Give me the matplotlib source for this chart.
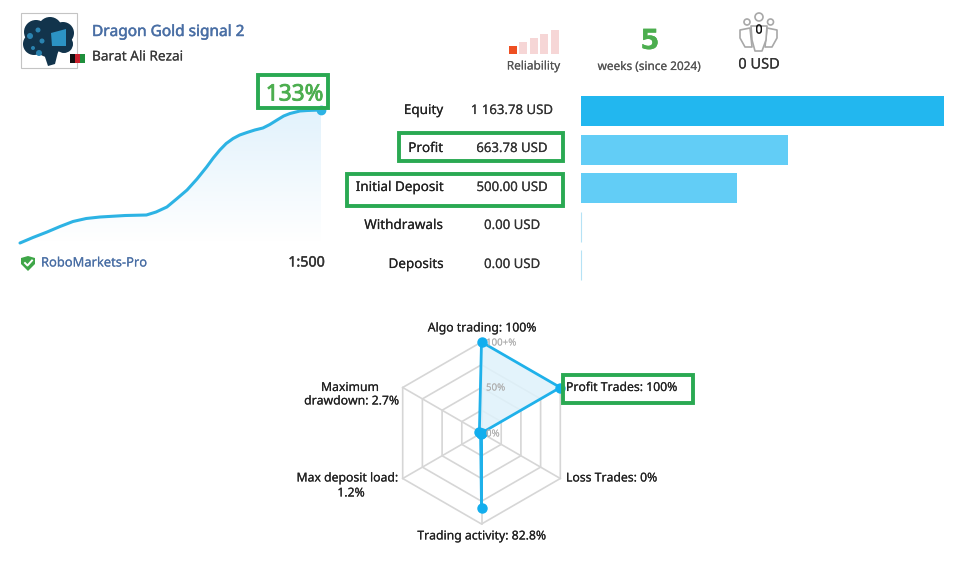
"""Signal card: growth line, balance bars and radar."""

import matplotlib
matplotlib.use("Agg")
import matplotlib.patheffects as pe
import matplotlib.pyplot as plt
import numpy as np
from matplotlib.patches import Circle, Polygon, Rectangle

plt.rcParams["font.family"] = ["Noto Sans", "DejaVu Sans"]

W, H = 960, 564

# growth curve, percent against week position
growth_x = [0, 4.3, 9, 13.3, 17.6, 22, 26.6, 35, 42, 45.2, 48.8, 52, 55.5, 58.8, 62, 64.2, 66.4, 68.5, 70.8, 73,
            75.4, 78, 80.7, 83, 85.4, 87.6, 89.7, 93, 95.4, 100]
growth_y = [0, 5.5, 11, 16.5, 21.5, 24.5, 26, 27.5, 28, 31, 36, 44, 53, 64, 76, 85, 93, 99.5, 104.5, 108,
            110.5, 113, 115, 118.5, 123, 127, 129.5, 132, 132.5, 133]

bar_labels = ["Equity", "Profit", "Initial Deposit", "Withdrawals", "Deposits"]
bar_texts = ["1 163.78 USD", "663.78 USD", "500.00 USD", "0.00 USD", "0.00 USD"]
bar_values = [1163.78, 663.78, 500.00, 0.00, 0.00]
bar_colors = ["#22b7ef", "#62cdf6", "#62cdf6", "#b5e2f5", "#b5e2f5"]

radar_labels = ["Algo trading", "Profit Trades", "Loss Trades", "Trading activity", "Max deposit load",
                "Maximum drawdown"]
radar_values = [100, 100, 0, 82.8, 1.2, 2.7]
radar_rings = [25, 50, 75, 100]
reliability = [8, 12, 16, 20, 24]

GREEN = "#2aa952"
BLUE = "#1fb1ea"
LINK = "#4a6fa5"
TEXT = "#2b2b2b"


def px_axes(fig, left, top, right, bottom, **kwargs):
    return fig.add_axes([left / W, 1 - bottom / H, (right - left) / W, (bottom - top) / H], **kwargs)


fig = plt.figure(figsize=(W / 100, H / 100), dpi=100, facecolor="white")

# overlay in pixel coordinates for the text and icons
ov = fig.add_axes([0, 0, 1, 1], zorder=5)
ov.set_xlim(0, W)
ov.set_ylim(H, 0)
ov.axis("off")
ov.patch.set_alpha(0)


def label(x, y, s, size=9.3, color=TEXT, ha="left", heavy=0.1, **kwargs):
    t = ov.text(x, y + 1.5, s, fontsize=size, color=color, ha=ha, va="center", **kwargs)
    t.set_path_effects([pe.withStroke(linewidth=heavy, foreground=color)])


def box(x0, y0, x1, y1):
    ov.add_patch(Rectangle((x0, y0), x1 - x0, y1 - y0, fill=False, ec=GREEN, lw=2.8))


# avatar
ov.add_patch(Rectangle((20.5, 13), 56, 55, fc="white", ec="#c4c4c4", lw=0.8))
for bx_, by_, r_ in [(36, 32, 12), (50, 29, 12), (63, 33, 11), (34, 44, 11), (48, 44, 13), (64, 44, 9)]:
    ov.add_patch(Circle((bx_, by_), r_, fc="#12344c", ec="none"))
ov.add_patch(Polygon([(44, 54), (58, 52), (55, 64), (48, 66)], fc="#12344c", ec="none"))
ov.add_patch(Polygon([(51, 33), (66, 29), (66, 46), (52, 46)], fc="#2c93c4", ec="none"))
for bx_, by_, r_ in [(30, 36, 3), (39, 53, 3), (38, 30, 2.5), (42, 41, 2.5), (33, 48, 2)]:
    ov.add_patch(Circle((bx_, by_), r_, fc="#2a83b0", ec="none"))
for i, c in enumerate(["#111111", "#c8202c", "#1f8f3c"]):
    ov.add_patch(Rectangle((70 + i * 5, 54), 5, 9, fc=c, ec="none"))

label(92, 30.5, "Dragon Gold signal 2", size=11.1, color=LINK, heavy=0.35)
label(92, 55.5, "Barat Ali Rezai", size=9.8, color="#3a3a3a")

# broker line
ov.add_patch(Polygon([(21, 258), (28, 256), (35, 258), (35, 264), (28, 271), (21, 264)], fc="#3fa648", ec="none"))
ov.plot([25, 27.5, 32], [263, 265.5, 260.5], color="white", lw=1.4)
label(41, 261.5, "RoboMarkets-Pro", size=9.3, color=LINK)
label(325, 261.5, "1:500", size=10.3, ha="right", color="#333333", heavy=0.3)

# growth line with fading fill
ax = px_axes(fig, 20, 110, 321, 243)
ax.set_xlim(0, 100)
ax.set_ylim(0, 133)
ax.axis("off")
fade = np.linspace(1, 0, 64).reshape(-1, 1)
rgba = np.ones((64, 1, 4))
rgba[..., 0], rgba[..., 1], rgba[..., 2] = 0.89, 0.95, 0.99
rgba[..., 3] = fade
im = ax.imshow(rgba, extent=[0, 100, 0, 133], aspect="auto", zorder=1)
poly = ax.fill_between(growth_x, growth_y, 0, color="none")
im.set_clip_path(poly.get_paths()[0], transform=ax.transData)
ax.plot(growth_x, growth_y, color="#2db3e4", lw=2.2, zorder=3, clip_on=False, solid_capstyle="round",
        solid_joinstyle="round")
ax.plot(growth_x[-1], growth_y[-1], "o", color="#2db3e4", ms=6, zorder=4, clip_on=False)
ax.set_xlim(0, 100)
ax.set_ylim(0, 133)

box(258, 75, 328, 108)
label(294.5, 93.5, "133%", size=16.3, color="#4cae4f", ha="center", heavy=0.6)

# header stats
for i, h in enumerate(reliability):
    c = "#ee4f22" if i == 0 else "#f6d6d6"
    ov.add_patch(Rectangle((509 + i * 10.4, 54 - h), 8, h, fc=c, ec="none"))
label(533.5, 64.5, "Reliability", size=8.5, color="#555555", ha="center")
label(650, 39.5, "5", size=20, color="#4cae4f", ha="center", fontfamily="DejaVu Sans", fontweight="bold", heavy=0)
label(649.5, 65, "weeks (since 2024)", size=8.5, color="#555555", ha="center")
for cx_, cy_, r_ in [(759, 17, 4), (747, 22, 3), (770.5, 22, 3)]:
    ov.add_patch(Circle((cx_, cy_), r_, fc="none", ec="#a8a8a8", lw=1.2))
ov.add_patch(Polygon([(740, 30), (750, 28), (752, 47), (745, 47), (740, 38)], fc="none", ec="#a8a8a8", lw=1.2,
                     joinstyle="round"))
ov.add_patch(Polygon([(767, 28), (777, 30), (777, 38), (772, 47), (765, 47)], fc="none", ec="#a8a8a8", lw=1.2,
                     joinstyle="round"))
ov.add_patch(Polygon([(751, 26), (767, 26), (766, 40), (762, 51), (755, 51), (752, 40)], fc="white", ec="#a8a8a8",
                     lw=1.2, joinstyle="round"))
label(759, 28.5, "0", size=9, color="#111111", ha="center")
label(759, 63.5, "0 USD", size=10.5, color="#333333", ha="center")

# balance rows
row_y = [109, 147, 186, 224, 263]
for y, name, val in zip(row_y, bar_labels, bar_texts):
    label(443, y, name, size=9.7, ha="right", color="#222222")
    label(512, y, val, size=9.5, ha="center", color="#333333")
box(399, 133, 563, 161)
box(347, 174, 563, 205.5)

bx = px_axes(fig, 581, 91.75, 944, 284.5)
bx.barh(range(5), bar_values, height=0.78, color=bar_colors, linewidth=0)
bx.barh([3, 4], bar_values[3:], height=0.78, edgecolor=bar_colors[3], linewidth=0.8, clip_on=False)
bx.set_xlim(0, max(bar_values))
bx.set_ylim(4.5, -0.5)
bx.axis("off")

# radar
R = 91
cx, cy = 481.5, 433
rad = px_axes(fig, cx - R, cy - R, cx + R, cy + R, projection="polar")
rad.set_theta_zero_location("N")
rad.set_theta_direction(-1)
rad.set_ylim(0, 100)
rad.axis("off")
angles = np.deg2rad(np.arange(6) * 60)
closed = np.append(angles, angles[0])
for ring in radar_rings:
    rad.plot(closed, [ring] * 7, color="#d6d6d6", lw=1.2, clip_on=False, zorder=1)
for a in angles:
    rad.plot([a, a], [0, 100], color="#d6d6d6", lw=1.2, clip_on=False, zorder=1)
vals = radar_values + radar_values[:1]
rad.fill(closed, vals, color="#dff2fb", alpha=0.85, zorder=2, clip_on=False)
rad.plot(closed, vals, color=BLUE, lw=2, zorder=3, clip_on=False)
rad.plot(angles, radar_values, "o", color="#12aeee", ms=6.5, zorder=4, clip_on=False)

label(486, 341.5, "100+%", size=7, color="#b0b0b0", heavy=0)
label(486, 386.5, "50%", size=7, color="#b0b0b0", heavy=0)
label(486, 432.5, "0%", size=7, color="#b0b0b0", heavy=0)

label(482, 326.5, f"{radar_labels[0]}: 100%", size=8.8, ha="center", color="#222222")
label(566, 386, f"{radar_labels[1]}: 100%", size=8.8, color="#222222")
label(566, 476.5, f"{radar_labels[2]}: 0%", size=8.8, color="#222222")
label(482, 534.5, f"{radar_labels[3]}: 82.8%", size=8.8, ha="center", color="#222222")
label(398, 476.5, "Max deposit load:", size=8.8, ha="right", color="#222222")
label(351, 491.5, "1.2%", size=8.8, ha="center", color="#222222")
label(350, 386, "Maximum", size=8.8, ha="center", color="#222222")
label(399, 399.5, "drawdown: 2.7%", size=8.8, ha="right", color="#222222")
box(563, 375, 693, 403)

fig.savefig("out.png", dpi=100)
